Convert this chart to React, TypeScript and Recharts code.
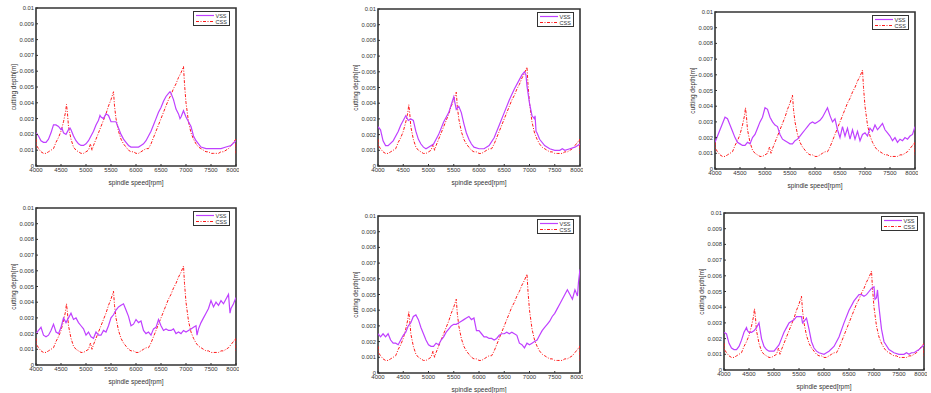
import React from 'react';
import { LineChart, Line, XAxis, YAxis, ReferenceArea } from 'recharts';

type Pt = [number, number];

// rpm ticks and depth ticks (m)
const rpmTicks = [4000, 4500, 5000, 5500, 6000, 6500, 7000, 7500, 8000];
const depthTicks = [0, 0.001, 0.002, 0.003, 0.004, 0.005, 0.006, 0.007, 0.008, 0.009, 0.01];

// CSS (constant spindle speed) – same curve in every panel
const css: Pt[] = [
  [4000, 0.0017], [4010, 0.0013], [4050, 0.0011], [4100, 0.0009], [4150, 0.0008], [4200, 0.0008],
  [4250, 0.0009], [4300, 0.001], [4350, 0.0011], [4400, 0.0015], [4450, 0.0018], [4500, 0.0022],
  [4550, 0.0028], [4590, 0.0034], [4610, 0.0039], [4630, 0.0033], [4650, 0.0025], [4700, 0.0017],
  [4750, 0.0012], [4800, 0.001], [4850, 0.0009], [4900, 0.0008], [4950, 0.0008], [5000, 0.0009],
  [5050, 0.001], [5090, 0.0014], [5120, 0.001], [5150, 0.0013], [5200, 0.0017], [5250, 0.0021],
  [5300, 0.0025], [5350, 0.0029], [5400, 0.0033], [5450, 0.0038], [5500, 0.0042], [5550, 0.0047],
  [5570, 0.0038], [5600, 0.003], [5650, 0.0022], [5700, 0.0017], [5750, 0.0014], [5800, 0.0012],
  [5850, 0.001], [5900, 0.0009], [5950, 0.0009], [6000, 0.0008], [6050, 0.0008], [6100, 0.0009],
  [6150, 0.001], [6200, 0.0011], [6250, 0.0011], [6300, 0.0014], [6350, 0.0018], [6400, 0.0022],
  [6450, 0.0026], [6500, 0.003], [6550, 0.0034], [6600, 0.0038], [6650, 0.0042], [6700, 0.0045],
  [6750, 0.0049], [6800, 0.0052], [6850, 0.0056], [6900, 0.0059], [6950, 0.0063], [6970, 0.0052],
  [7000, 0.004], [7050, 0.0028], [7100, 0.0021], [7150, 0.0017], [7200, 0.0014], [7250, 0.0012],
  [7300, 0.0011], [7350, 0.001], [7400, 0.0009], [7450, 0.0009], [7500, 0.0008], [7550, 0.0008],
  [7600, 0.0008], [7650, 0.0008], [7700, 0.0009], [7750, 0.0009], [7800, 0.001], [7850, 0.0011],
  [7900, 0.0013], [7950, 0.0015], [7995, 0.0017], [8000, 0.0008],
];

// VSS (variable spindle speed) – one curve per panel
const vss1: Pt[] = [
  [4000, 0.0021], [4050, 0.0019], [4100, 0.0016], [4150, 0.0015], [4200, 0.0015], [4250, 0.0017],
  [4300, 0.0021], [4350, 0.0026], [4400, 0.0026], [4450, 0.0025], [4500, 0.0023], [4520, 0.0024],
  [4550, 0.0021], [4600, 0.002], [4650, 0.0023], [4680, 0.0024], [4700, 0.0023], [4750, 0.0019],
  [4800, 0.0016], [4850, 0.0014], [4900, 0.0013], [4950, 0.0013], [5000, 0.0014], [5050, 0.0016],
  [5100, 0.0019], [5150, 0.0022], [5200, 0.0026], [5250, 0.0029], [5280, 0.0032], [5300, 0.0031],
  [5350, 0.003], [5400, 0.0033], [5450, 0.0032], [5500, 0.0028], [5550, 0.0028], [5600, 0.0028],
  [5650, 0.0024], [5700, 0.002], [5750, 0.0017], [5800, 0.0015], [5850, 0.0013], [5900, 0.0012],
  [6000, 0.0012], [6050, 0.0012], [6100, 0.0013], [6150, 0.0014], [6200, 0.0016], [6250, 0.0019],
  [6300, 0.0022], [6350, 0.0026], [6400, 0.003], [6450, 0.0034], [6500, 0.0037], [6550, 0.0041],
  [6600, 0.0044], [6650, 0.0046], [6680, 0.0047], [6700, 0.0046], [6750, 0.0042], [6800, 0.0036],
  [6850, 0.0033], [6880, 0.003], [6900, 0.0031], [6950, 0.0035], [7000, 0.0031], [7050, 0.0028],
  [7100, 0.0025], [7150, 0.0019], [7200, 0.0016], [7250, 0.0014], [7300, 0.0012], [7400, 0.0011],
  [7500, 0.0011], [7600, 0.0011], [7700, 0.0011], [7800, 0.0012], [7900, 0.0013], [8000, 0.0016],
];

const vss2: Pt[] = [
  [4000, 0.0025], [4050, 0.0023], [4100, 0.0016], [4150, 0.0013], [4200, 0.0013], [4300, 0.0016],
  [4400, 0.0022], [4450, 0.0026], [4500, 0.0029], [4550, 0.0032], [4600, 0.0029], [4650, 0.003],
  [4700, 0.0029], [4750, 0.0022], [4800, 0.0017], [4850, 0.0014], [4900, 0.0012], [4950, 0.0011],
  [5000, 0.0012], [5100, 0.0014], [5200, 0.002], [5300, 0.0028], [5350, 0.0031], [5400, 0.0034],
  [5450, 0.0039], [5500, 0.0044], [5550, 0.0036], [5600, 0.0038], [5650, 0.0034], [5700, 0.0027],
  [5750, 0.0021], [5800, 0.0017], [5850, 0.0014], [5900, 0.0012], [6000, 0.0011], [6100, 0.0011],
  [6200, 0.0013], [6300, 0.0018], [6400, 0.0026], [6500, 0.0034], [6600, 0.0042], [6700, 0.0049],
  [6800, 0.0055], [6850, 0.0058], [6900, 0.006], [6930, 0.0058], [6950, 0.0051], [7000, 0.004],
  [7050, 0.0032], [7100, 0.003], [7110, 0.0032], [7130, 0.0022], [7150, 0.0021], [7200, 0.0017],
  [7300, 0.0013], [7400, 0.0011], [7500, 0.001], [7600, 0.001], [7650, 0.0011], [7700, 0.001],
  [7800, 0.0011], [7900, 0.0012], [8000, 0.0014],
];

const vss3: Pt[] = [
  [4000, 0.0017], [4050, 0.0021], [4100, 0.0025], [4150, 0.0029], [4200, 0.0033], [4250, 0.0032],
  [4300, 0.0028], [4350, 0.0024], [4400, 0.002], [4450, 0.0017], [4500, 0.0016], [4550, 0.0015],
  [4600, 0.0015], [4650, 0.0017], [4700, 0.0016], [4750, 0.002], [4800, 0.0022], [4850, 0.0026],
  [4900, 0.003], [4950, 0.0033], [5000, 0.0039], [5050, 0.0038], [5100, 0.0033], [5150, 0.003],
  [5200, 0.0028], [5250, 0.0027], [5300, 0.0022], [5350, 0.0019], [5400, 0.0018], [5450, 0.0017],
  [5500, 0.0016], [5550, 0.0016], [5600, 0.0018], [5650, 0.0019], [5700, 0.0021], [5750, 0.0023],
  [5800, 0.0025], [5850, 0.0027], [5900, 0.0029], [5950, 0.003], [6000, 0.0029], [6050, 0.003],
  [6100, 0.0031], [6150, 0.0033], [6200, 0.0036], [6250, 0.0039], [6300, 0.0034], [6350, 0.003],
  [6400, 0.0032], [6450, 0.0025], [6500, 0.002], [6550, 0.0027], [6600, 0.0021], [6650, 0.0026],
  [6700, 0.0019], [6750, 0.0025], [6800, 0.0019], [6850, 0.0024], [6900, 0.0018], [6950, 0.0022],
  [7000, 0.0023], [7050, 0.0021], [7100, 0.0026], [7150, 0.0024], [7200, 0.0028], [7250, 0.0025],
  [7300, 0.0027], [7350, 0.0029], [7400, 0.0025], [7450, 0.0023], [7500, 0.0021], [7550, 0.0018],
  [7600, 0.002], [7650, 0.0017], [7700, 0.0019], [7750, 0.0018], [7800, 0.002], [7850, 0.0019],
  [7900, 0.0021], [7950, 0.0022], [8000, 0.0027],
];

const vss4: Pt[] = [
  [4000, 0.002], [4050, 0.0022], [4100, 0.0024], [4150, 0.0019], [4200, 0.0018], [4250, 0.0019],
  [4300, 0.0022], [4350, 0.0026], [4400, 0.0021], [4450, 0.002], [4500, 0.0024], [4550, 0.003],
  [4600, 0.0027], [4650, 0.003], [4700, 0.0033], [4750, 0.0029], [4800, 0.003], [4850, 0.0027],
  [4900, 0.0025], [4950, 0.0023], [5000, 0.0019], [5050, 0.0021], [5100, 0.0018], [5150, 0.0017],
  [5200, 0.0021], [5250, 0.0019], [5300, 0.0019], [5350, 0.0022], [5400, 0.0021], [5450, 0.0025],
  [5500, 0.003], [5550, 0.0032], [5600, 0.0035], [5650, 0.0037], [5700, 0.0038], [5750, 0.0039],
  [5800, 0.0035], [5850, 0.0031], [5900, 0.0025], [5950, 0.0026], [6000, 0.0029], [6050, 0.0027],
  [6100, 0.0028], [6150, 0.0022], [6200, 0.002], [6250, 0.0021], [6300, 0.0019], [6350, 0.0023],
  [6400, 0.0024], [6450, 0.0029], [6500, 0.0025], [6550, 0.0022], [6600, 0.0023], [6650, 0.0022],
  [6700, 0.0022], [6750, 0.0023], [6800, 0.002], [6850, 0.0021], [6900, 0.002], [6950, 0.0022],
  [7000, 0.0021], [7050, 0.0022], [7100, 0.0023], [7150, 0.0024], [7200, 0.0025], [7220, 0.0019],
  [7250, 0.0023], [7300, 0.0027], [7350, 0.003], [7400, 0.0033], [7450, 0.0036], [7500, 0.0041],
  [7550, 0.0037], [7600, 0.004], [7650, 0.0038], [7700, 0.0041], [7750, 0.0039], [7800, 0.0042],
  [7850, 0.0045], [7880, 0.0033], [7900, 0.0036], [7950, 0.0039], [8000, 0.0043],
];

const vss5: Pt[] = [
  [4000, 0.0025], [4050, 0.0023], [4100, 0.0025], [4150, 0.0023], [4200, 0.0025], [4250, 0.0021],
  [4300, 0.0019], [4350, 0.0019], [4400, 0.0018], [4450, 0.0021], [4500, 0.0024], [4550, 0.0026],
  [4600, 0.003], [4650, 0.0032], [4700, 0.0036], [4750, 0.0037], [4800, 0.0034], [4850, 0.0029],
  [4900, 0.0025], [4950, 0.0021], [5000, 0.0018], [5050, 0.0017], [5100, 0.0017], [5150, 0.0019],
  [5200, 0.0018], [5250, 0.0021], [5300, 0.0023], [5350, 0.0026], [5400, 0.0028], [5450, 0.003],
  [5500, 0.0031], [5550, 0.0031], [5600, 0.0032], [5650, 0.0033], [5700, 0.0034], [5750, 0.0035],
  [5800, 0.0036], [5850, 0.0034], [5900, 0.0035], [5950, 0.0027], [6000, 0.0027], [6050, 0.0025],
  [6100, 0.0023], [6150, 0.0023], [6200, 0.0022], [6250, 0.0022], [6300, 0.0021], [6350, 0.0022],
  [6400, 0.0024], [6450, 0.0025], [6500, 0.0025], [6550, 0.0026], [6600, 0.0025], [6650, 0.0026],
  [6700, 0.0025], [6750, 0.0024], [6800, 0.0019], [6850, 0.0018], [6900, 0.0016], [6950, 0.0019],
  [7000, 0.0018], [7050, 0.0019], [7100, 0.002], [7150, 0.0021], [7200, 0.0024], [7250, 0.0027],
  [7300, 0.0029], [7350, 0.0031], [7400, 0.0033], [7450, 0.0036], [7500, 0.0038], [7550, 0.0041],
  [7600, 0.0044], [7650, 0.0047], [7700, 0.005], [7750, 0.0053], [7800, 0.005], [7850, 0.0047],
  [7900, 0.0053], [7950, 0.0049], [7970, 0.0058], [8000, 0.0066],
];

const vss6: Pt[] = [
  [4000, 0.0024], [4050, 0.0023], [4100, 0.0017], [4150, 0.0014], [4200, 0.0013], [4250, 0.0013],
  [4300, 0.0015], [4350, 0.0019], [4400, 0.0024], [4450, 0.0027], [4470, 0.0025], [4500, 0.0024],
  [4550, 0.0024], [4600, 0.0025], [4650, 0.0027], [4700, 0.003], [4750, 0.002], [4800, 0.0015],
  [4850, 0.0013], [4900, 0.0012], [5000, 0.0012], [5100, 0.0016], [5150, 0.002], [5200, 0.0024],
  [5250, 0.0027], [5300, 0.003], [5350, 0.0031], [5400, 0.0032], [5450, 0.0034], [5500, 0.0034],
  [5550, 0.0034], [5570, 0.003], [5600, 0.0031], [5650, 0.0033], [5700, 0.0026], [5750, 0.0018],
  [5800, 0.0014], [5850, 0.0012], [5900, 0.0011], [6000, 0.001], [6050, 0.0011], [6100, 0.0012],
  [6200, 0.0015], [6300, 0.0021], [6400, 0.003], [6500, 0.0038], [6600, 0.0044], [6700, 0.0048],
  [6750, 0.0048], [6800, 0.0047], [6850, 0.0048], [6900, 0.005], [6950, 0.0052], [7000, 0.0053],
  [7020, 0.0045], [7050, 0.0046], [7070, 0.0051], [7100, 0.004], [7150, 0.0026], [7200, 0.0018],
  [7300, 0.0013], [7400, 0.0011], [7500, 0.001], [7600, 0.001], [7650, 0.0011], [7700, 0.001],
  [7750, 0.0011], [7800, 0.0011], [7900, 0.0013], [8000, 0.0016],
];

const VSS_COLOR = '#BF40FF';
const CSS_COLOR = '#FF1A1A';
const CSS_DASH = '3 1.5 1 1.5';
const AXIS_COLOR = '#333';
const FONT = '"Liberation Sans", Arial, sans-serif';

const toRows = (pts: Pt[]) => pts.map(([rpm, depth]) => ({ rpm, depth }));

const Y_AXIS_W = 30;
const X_AXIS_H = 22;
const M_TOP = 3;
const M_RIGHT = 3;

const YLabel = (props: any) => {
  const vb = props.viewBox || {};
  const plotLeft = vb.width < 60 ? vb.x + vb.width : vb.x;
  const x = plotLeft - 23;
  const y = vb.y + vb.height / 2;
  return (
    <text x={x} y={y} transform={`rotate(-90 ${x} ${y})`} textAnchor="middle" dominantBaseline="central"
      style={{ fontSize: 6.5, fill: '#333', fontFamily: FONT }}>
      cutting depth[m]
    </text>
  );
};

const XLabel = (props: any) => {
  const vb = props.viewBox || {};
  const plotBottom = vb.height < 60 ? vb.y : vb.y + vb.height;
  const x = vb.x + vb.width / 2;
  const y = plotBottom + 16;
  return (
    <text x={x} y={y} textAnchor="middle" dominantBaseline="central"
      style={{ fontSize: 6.5, fill: '#333', fontFamily: FONT }}>
      spindle speed[rpm]
    </text>
  );
};

interface PanelProps {
  left: number;
  top: number;
  plotW: number;
  plotH: number;
  vss: Pt[];
}

function Panel({ left, top, plotW, plotH, vss }: PanelProps) {
  const width = plotW + Y_AXIS_W + M_RIGHT;
  const height = plotH + M_TOP + X_AXIS_H;
  const tickStroke = { stroke: AXIS_COLOR, strokeWidth: 1 };
  return (
    <div style={{ position: 'absolute', left: left - Y_AXIS_W, top: top - M_TOP, width, height }}>
      <LineChart width={width} height={height} margin={{ top: M_TOP, right: M_RIGHT, left: 0, bottom: 0 }}>
        <XAxis
          type="number"
          dataKey="rpm"
          domain={[4000, 8000]}
          ticks={rpmTicks}
          allowDataOverflow
          height={X_AXIS_H}
          tick={{ fontSize: 6, fill: '#333', fontFamily: FONT }}
          tickSize={-2}
          tickMargin={4}
          axisLine={false}
          tickLine={tickStroke}
          label={<XLabel />}
        />
        <YAxis
          type="number"
          domain={[0, 0.01]}
          ticks={depthTicks}
          allowDataOverflow
          width={Y_AXIS_W}
          tick={{ fontSize: 5.8, fill: '#333', fontFamily: FONT }}
          tickSize={-2}
          tickMargin={4}
          axisLine={false}
          tickLine={tickStroke}
          tickFormatter={(v: number) => (v === 0 ? '0' : String(Number(v.toFixed(3))))}
          label={<YLabel />}
        />
        {/* MATLAB-style box around the axes */}
        <ReferenceArea
          x1={4000}
          x2={8000}
          y1={0}
          y2={0.01}
          ifOverflow="visible"
          fill="#ffffff"
          fillOpacity={0}
          stroke={AXIS_COLOR}
          strokeWidth={1.6}
          strokeOpacity={1}
        />
        <Line
          data={toRows(css)}
          dataKey="depth"
          type="linear"
          stroke={CSS_COLOR}
          strokeWidth={1}
          strokeDasharray={CSS_DASH}
          dot={false}
          isAnimationActive={false}
          name="CSS"
        />
        <Line
          data={toRows(vss)}
          dataKey="depth"
          type="linear"
          stroke={VSS_COLOR}
          strokeWidth={1.2}
          dot={false}
          isAnimationActive={false}
          name="VSS"
        />
      </LineChart>
      {/* legend */}
      <div
        style={{
          position: 'absolute',
          top: M_TOP + 3,
          left: Y_AXIS_W + plotW - 43,
          width: 37,
          height: 15,
          border: `1px solid ${AXIS_COLOR}`,
          background: '#fff',
          boxSizing: 'border-box',
        }}
      >
        <svg width={35} height={13} style={{ display: 'block' }}>
          <line x1={2} y1={3.5} x2={20} y2={3.5} stroke={VSS_COLOR} strokeWidth={1.2} />
          <text x={21.5} y={3.8} dominantBaseline="central" style={{ fontSize: 5.5, fill: '#333', fontFamily: FONT }}>VSS</text>
          <line x1={2} y1={9.5} x2={20} y2={9.5} stroke={CSS_COLOR} strokeWidth={1} strokeDasharray={CSS_DASH} />
          <text x={21.5} y={9.8} dominantBaseline="central" style={{ fontSize: 5.5, fill: '#333', fontFamily: FONT }}>CSS</text>
        </svg>
      </div>
    </div>
  );
}

export default function App() {
  return (
    <div style={{ position: 'absolute', left: 0, top: 0, width: 931, height: 393, background: '#fff', overflow: 'hidden' }}>
      <Panel left={36} top={8} plotW={200} plotH={158} vss={vss1} />
      <Panel left={378} top={9} plotW={202} plotH={157} vss={vss2} />
      <Panel left={715} top={12} plotW={200} plotH={157} vss={vss3} />
      <Panel left={36} top={208} plotW={200} plotH={157} vss={vss4} />
      <Panel left={378} top={216} plotW={202} plotH={157} vss={vss5} />
      <Panel left={724} top={213} plotW={200} plotH={157} vss={vss6} />
    </div>
  );
}
